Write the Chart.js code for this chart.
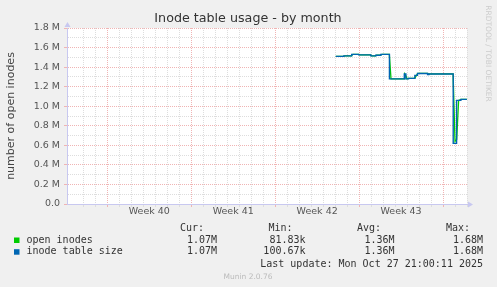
<!DOCTYPE html>
<html>
<head>
<meta charset="utf-8">
<script src="https://cdn.jsdelivr.net/npm/chart.js@4/dist/chart.umd.min.js"></script>
<style>
  html, body { margin: 0; padding: 0; background: #f0f0f0; }
  canvas { display: block; }
</style>
</head>
<body>
<canvas id="chart" width="497" height="287"></canvas>
<script>
// x values are days counted from the start of week 40
const weekLabels = ["Week 40", "Week 41", "Week 42", "Week 43"];
const firstWeek = 40;

// inode table size (step changes)
const sizeDays = [19.05, 19.72, 20.38, 20.97, 21.97, 22.39, 22.81, 23.53, 24.77, 24.9, 25.12, 25.65, 25.87, 26.71, 26.82, 28.85, 29.13, 29.49, 29.99];
const sizeValues = [1.51, 1.515, 1.53, 1.525, 1.515, 1.522, 1.53, 1.28, 1.33, 1.28, 1.285, 1.315, 1.335, 1.325, 1.33, 0.62, 1.06, 1.07, 1.07];

// open inodes (averaged, sloped transitions)
const openDays = [19.05, 19.7, 19.8, 20.36, 20.48, 20.96, 21.05, 21.96, 22.05, 22.38, 22.46, 22.8, 22.9, 23.52, 23.66, 24.76, 24.8, 24.9, 25.0, 25.12, 25.64, 25.78, 25.9, 26.7, 26.78, 26.82, 28.84, 29.0, 29.14, 29.3, 29.5, 29.99];
const openValues = [1.51, 1.51, 1.515, 1.515, 1.53, 1.53, 1.525, 1.525, 1.515, 1.515, 1.522, 1.522, 1.53, 1.53, 1.28, 1.28, 1.33, 1.31, 1.28, 1.285, 1.285, 1.315, 1.335, 1.335, 1.325, 1.33, 1.33, 0.64, 0.66, 1.06, 1.07, 1.07];

// legend table
const seriesNames = ["open inodes", "inode table size"];
const seriesColors = ["#00cc00", "#0066b3"];
const curValues = ["1.07M", "1.07M"];
const minValues = ["81.83k", "100.67k"];
const avgValues = ["1.36M", "1.36M"];
const maxValues = ["1.68M", "1.68M"];
const lastUpdate = "Last update: Mon Oct 27 21:00:11 2025";

const MAJOR = "#f0b4b4";
const MINOR = "#dddddd";
const AXIS = "#c8c8f0";

function toPoints(xs, ys) {
  return xs.map(function (x, i) {
    return { x: x, y: ys[i] };
  });
}

function xGridColor(ctx) {
  let v = ctx.tick.value;
  if (Math.abs(v - Math.round(v)) > 0.01) return "rgba(0,0,0,0)";
  return Math.round(v) % 7 === 0 ? MAJOR : MINOR;
}

function yGridColor(ctx) {
  let v = Math.round(ctx.tick.value * 10);
  return v % 2 === 0 ? MAJOR : MINOR;
}

const muninDecor = {
  id: "muninDecor",
  beforeDraw(chart) {
    const ctx = chart.ctx;
    const a = chart.chartArea;
    ctx.save();
    ctx.fillStyle = "#f0f0f0";
    ctx.fillRect(0, 0, chart.width, chart.height);
    ctx.fillStyle = "#ffffff";
    ctx.fillRect(a.left, a.top, a.right - a.left, a.bottom - a.top);
    ctx.restore();
  },
  afterDraw(chart) {
    const ctx = chart.ctx;
    const a = chart.chartArea;
    ctx.save();

    // axis arrows
    ctx.fillStyle = AXIS;
    ctx.beginPath();
    ctx.moveTo(a.left + 0.5, a.top - 6);
    ctx.lineTo(a.left - 2.5, a.top - 1);
    ctx.lineTo(a.left + 3.5, a.top - 1);
    ctx.fill();
    ctx.beginPath();
    ctx.moveTo(a.right + 6, a.bottom + 0.5);
    ctx.lineTo(a.right + 1, a.bottom - 2.5);
    ctx.lineTo(a.right + 1, a.bottom + 3.5);
    ctx.fill();

    // title
    ctx.fillStyle = "#333";
    ctx.textAlign = "center";
    ctx.textBaseline = "middle";
    ctx.font = "12.7px 'DejaVu Sans'";
    ctx.fillText("Inode table usage - by month", 248, 19);

    // y axis title
    ctx.save();
    ctx.translate(11.5, 116);
    ctx.rotate(-Math.PI / 2);
    ctx.font = "11px 'DejaVu Sans'";
    ctx.fillStyle = "#444";
    ctx.fillText("number of open inodes", 0, 0);
    ctx.restore();

    // watermark
    ctx.save();
    ctx.translate(488, 53.5);
    ctx.rotate(Math.PI / 2);
    ctx.font = "7.5px 'DejaVu Sans'";
    ctx.fillStyle = "#cccccc";
    ctx.fillText("RRDTOOL / TOBI OETIKER", 0, 0);
    ctx.restore();

    // legend table
    ctx.font = "10px 'DejaVu Sans Mono'";
    ctx.fillStyle = "#333";
    ctx.textAlign = "right";
    ctx.fillText("Cur:", 204, 228);
    ctx.fillText("Min:", 292.5, 228);
    ctx.fillText("Avg:", 381, 228);
    ctx.fillText("Max:", 470, 228);
    for (let i = 0; i < seriesNames.length; i++) {
      let y = 240 + i * 11.7;
      ctx.fillStyle = seriesColors[i];
      ctx.fillRect(14, y - 2.5, 5.5, 5.5);
      ctx.fillStyle = "#333";
      ctx.textAlign = "left";
      ctx.fillText(seriesNames[i], 26.5, y);
      ctx.textAlign = "right";
      ctx.fillText(curValues[i], 217, y);
      ctx.fillText(minValues[i], 305.5, y);
      ctx.fillText(avgValues[i], 394.5, y);
      ctx.fillText(maxValues[i], 483, y);
    }
    ctx.fillText(lastUpdate, 483, 264);

    ctx.textAlign = "center";
    ctx.font = "7.5px 'DejaVu Sans'";
    ctx.fillStyle = "#bbbbbb";
    ctx.fillText("Munin 2.0.76", 248, 277);

    ctx.restore();
  },
};

new Chart(document.getElementById("chart"), {
  type: "line",
  data: {
    datasets: [
      {
        label: seriesNames[0],
        data: toPoints(openDays, openValues),
        borderColor: seriesColors[0],
        borderWidth: 1.3,
        pointRadius: 0,
        tension: 0,
        order: 2,
      },
      {
        label: seriesNames[1],
        data: toPoints(sizeDays, sizeValues),
        borderColor: seriesColors[1],
        borderWidth: 1.4,
        pointRadius: 0,
        stepped: true,
        order: 1,
      },
    ],
  },
  options: {
    responsive: false,
    animation: false,
    events: [],
    layout: {
      padding: { left: 0, right: 30, top: 28, bottom: 63 },
    },
    plugins: {
      legend: { display: false },
      tooltip: { enabled: false },
    },
    scales: {
      x: {
        type: "linear",
        min: -3.37,
        max: 30,
        afterFit: function (scale) {
          scale.height = 20;
        },
        border: { color: AXIS, width: 1, dash: [1, 1] },
        grid: {
          color: xGridColor,
          tickColor: xGridColor,
          tickLength: 3,
          lineWidth: 1,
        },
        ticks: {
          stepSize: 0.5,
          autoSkip: false,
          maxRotation: 0,
          padding: 0,
          color: "#555",
          font: { family: "DejaVu Sans", size: 9.5, lineHeight: 1 },
          callback: function (value) {
            let rel = value - 3.5;
            if (Math.abs(rel / 7 - Math.round(rel / 7)) > 0.001) return "";
            let idx = Math.round(rel / 7);
            return weekLabels[idx] || "Week " + (firstWeek + idx);
          },
        },
      },
      y: {
        min: 0,
        max: 1.8,
        afterFit: function (scale) {
          scale.width = 67;
        },
        border: { color: AXIS, width: 1, dash: [1, 1] },
        grid: {
          color: yGridColor,
          tickColor: function (ctx) {
            return Math.round(ctx.tick.value * 10) % 2 === 0 ? MAJOR : "rgba(0,0,0,0)";
          },
          tickLength: 3,
          lineWidth: 1,
        },
        ticks: {
          stepSize: 0.1,
          autoSkip: false,
          padding: 4,
          color: "#555",
          font: { family: "DejaVu Sans", size: 9.5 },
          callback: function (value) {
            let v = Math.round(value * 10);
            if (v % 2 !== 0) return "";
            if (v === 0) return "0.0";
            return (v / 10).toFixed(1) + " M";
          },
        },
      },
    },
  },
  plugins: [muninDecor],
});
</script>
</body>
</html>
